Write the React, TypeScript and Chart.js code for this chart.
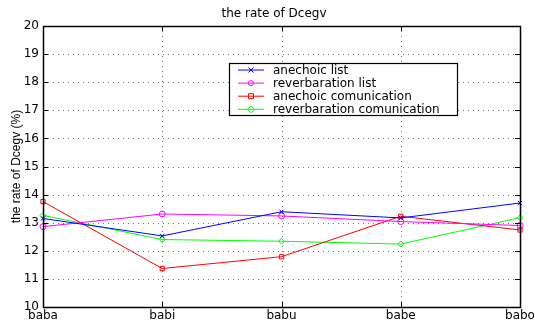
import React, { useEffect, useRef } from "react";
import { Chart, registerables } from "chart.js";

Chart.register(...registerables);

const categories = ["baba", "babi", "babu", "babe", "babo"];
const anechoicList = [13.15, 12.53, 13.39, 13.17, 13.7];
const reverbList = [12.86, 13.31, 13.24, 13.04, 12.9];
const anechoicComm = [13.75, 11.37, 11.79, 13.23, 12.74];
const reverbComm = [13.26, 12.4, 12.34, 12.24, 13.18];
const seriesNames = [
  "anechoic list",
  "reverbaration list",
  "anechoic comunication",
  "reverbaration comunication",
];
const yTicks = [10, 11, 12, 13, 14, 15, 16, 17, 18, 19, 20];
const chartTitle = "the rate of Dcegv";
const yTitle = "the rate of Dcegv (%)";

const TXT = "'DejaVu Sans', sans-serif";

function drawMarker(ctx: CanvasRenderingContext2D, style: string, x: number, y: number, r: number, color: string) {
  ctx.save();
  ctx.strokeStyle = color;
  ctx.lineWidth = 1;
  ctx.beginPath();
  if (style === "crossRot") {
    ctx.moveTo(x - r, y - r); ctx.lineTo(x + r, y + r);
    ctx.moveTo(x - r, y + r); ctx.lineTo(x + r, y - r);
  } else if (style === "circle") {
    ctx.arc(x, y, r, 0, Math.PI * 2);
  } else if (style === "rect") {
    ctx.rect(x - r, y - r, 2 * r, 2 * r);
  } else if (style === "rectRot") {
    ctx.moveTo(x, y - r - 1); ctx.lineTo(x + r + 1, y); ctx.lineTo(x, y + r + 1); ctx.lineTo(x - r - 1, y); ctx.closePath();
  }
  ctx.stroke();
  ctx.restore();
}

const framePlugin = {
  id: "matlabFrame",
  beforeDatasetsDraw(chart: any) {
    const { ctx, chartArea: a, scales } = chart;
    ctx.save();
    ctx.strokeStyle = "rgba(0,0,0,0.55)";
    ctx.lineWidth = 1;
    ctx.setLineDash([1, 4]);
    const ys = scales.y;
    yTicks.forEach((v) => {
      if (v === 10 || v === 20) return;
      const p = Math.round(ys.getPixelForValue(v)) + 0.5;
      ctx.beginPath(); ctx.moveTo(a.left, p); ctx.lineTo(a.right, p); ctx.stroke();
    });
    const xs = scales.x;
    categories.forEach((c, i) => {
      if (i === 0 || i === categories.length - 1) return;
      const p = Math.round(xs.getPixelForValue(i)) + 0.5;
      ctx.beginPath(); ctx.moveTo(p, a.top); ctx.lineTo(p, a.bottom); ctx.stroke();
    });
    ctx.restore();
  },
  afterDraw(chart: any) {
    const { ctx, chartArea: a, scales } = chart;
    ctx.save();
    ctx.strokeStyle = "#000";
    ctx.lineWidth = 1;
    ctx.setLineDash([]);
    const tl = 5;
    yTicks.forEach((v) => {
      const p = Math.round(scales.y.getPixelForValue(v)) + 0.5;
      ctx.beginPath();
      ctx.moveTo(a.left, p); ctx.lineTo(a.left + tl, p);
      ctx.moveTo(a.right, p); ctx.lineTo(a.right - tl, p);
      ctx.stroke();
    });
    categories.forEach((c, i) => {
      const p = Math.round(scales.x.getPixelForValue(i)) + 0.5;
      ctx.beginPath();
      ctx.moveTo(p, a.bottom); ctx.lineTo(p, a.bottom - tl);
      ctx.moveTo(p, a.top); ctx.lineTo(p, a.top + tl);
      ctx.stroke();
    });
    ctx.lineWidth = 1.5;
    ctx.strokeRect(Math.round(a.left) + 0.5, Math.round(a.top) + 0.5, Math.round(a.right - a.left), Math.round(a.bottom - a.top));
    ctx.fillStyle = "#000";
    ctx.font = `12px ${TXT}`;
    ctx.textAlign = "center";
    ctx.textBaseline = "middle";
    ctx.fillText(chartTitle, 274, 14);
    const lx = 229, ly = 63, lw = 228, lh = 52;
    ctx.fillStyle = "#fff";
    ctx.fillRect(lx, ly, lw, lh);
    ctx.lineWidth = 1.2;
    ctx.strokeStyle = "#000";
    ctx.strokeRect(lx + 0.5, ly + 0.5, lw, lh);
    chart.data.datasets.forEach((ds: any, i: number) => {
      const cy = ly + 7 + i * 13.1;
      ctx.strokeStyle = ds.borderColor;
      ctx.lineWidth = 1;
      ctx.beginPath(); ctx.moveTo(lx + 9, cy); ctx.lineTo(lx + 35, cy); ctx.stroke();
      drawMarker(ctx, ds.pointStyle, lx + 22, cy, 2.5, ds.borderColor);
      ctx.fillStyle = "#000";
      ctx.font = `12px ${TXT}`;
      ctx.textAlign = "left";
      ctx.textBaseline = "middle";
      ctx.fillText(ds.label, lx + 44, cy + 0.5);
    });
    ctx.restore();
  },
};

export default function App() {
  const ref = useRef<HTMLCanvasElement>(null);
  useEffect(() => {
    document.body.style.margin = "0";
    const mk = (label: string, data: number[], color: string, style: string) => ({
      label,
      data,
      borderColor: color,
      backgroundColor: color,
      borderWidth: 1,
      pointStyle: style,
      pointRadius: 3,
      pointBorderWidth: 1,
      pointBackgroundColor: "rgba(0,0,0,0)",
      pointBorderColor: color,
      tension: 0,
      fill: false,
    });
    const chart = new Chart(ref.current!, {
      type: "line",
      data: {
        labels: categories,
        datasets: [
          mk(seriesNames[0], anechoicList, "#0000ff", "crossRot"),
          mk(seriesNames[1], reverbList, "#ff00ff", "circle"),
          mk(seriesNames[2], anechoicComm, "#ff0000", "rect"),
          mk(seriesNames[3], reverbComm, "#00ff00", "rectRot"),
        ],
      },
      options: {
        animation: false,
        responsive: false,
        maintainAspectRatio: false,
        layout: { padding: { top: 26, right: 15, left: 0, bottom: 0 } },
        plugins: {
          legend: { display: false },
          title: { display: false },
          tooltip: { enabled: false },
        },
        scales: {
          x: {
            type: "category",
            offset: false,
            grid: { display: false, drawTicks: false },
            border: { display: false },
            ticks: { color: "#000", font: { family: TXT, size: 12 }, padding: 2, maxRotation: 0, autoSkip: false },
            afterFit(scale: any) {
              scale.height = 17;
              scale.paddingLeft = 0;
              scale.paddingRight = 0;
            },
          },
          y: {
            min: 10,
            max: 20,
            grid: { display: false, drawTicks: false },
            border: { display: false },
            ticks: { stepSize: 1, color: "#000", font: { family: TXT, size: 12 }, padding: 4 },
            title: {
              display: true,
              text: yTitle,
              color: "#000",
              font: { family: "'Liberation Sans', Arial, sans-serif", size: 12 },
              padding: { top: 9, bottom: 0 },
            },
            afterFit(scale: any) {
              scale.width = 43;
              scale.paddingTop = 0;
              scale.paddingBottom = 0;
            },
          },
        },
      },
      plugins: [framePlugin],
    } as any);
    return () => chart.destroy();
  }, []);
  return <canvas ref={ref} width={535} height={324} style={{ display: "block", width: 535, height: 324 }} />;
}
